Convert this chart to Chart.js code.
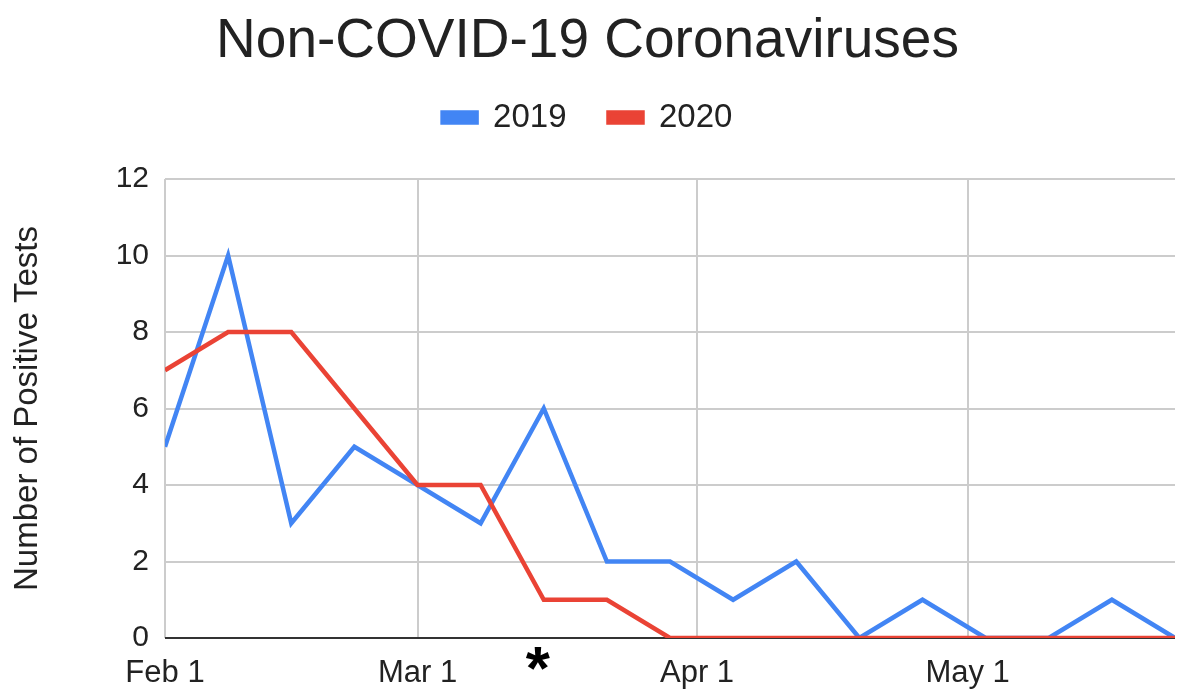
<!DOCTYPE html>
<html>
<head>
<meta charset="utf-8">
<script src="https://cdn.jsdelivr.net/npm/chart.js@4.4.1/dist/chart.umd.min.js"></script>
<style>
  html, body { margin: 0; padding: 0; background: #fff; }
  #wrap { width: 1178px; height: 693px; }
</style>
</head>
<body>
<div id="wrap"><canvas id="myChart"></canvas></div>
<script>
// days since Feb 1, one point per week
const days = [0, 7, 14, 21, 28, 35, 42, 49, 56, 63, 70, 77, 84, 91, 98, 105, 112];
const series2019 = [5, 10, 3, 5, 4, 3, 6, 2, 2, 1, 2, 0, 1, 0, 0, 1, 0];
const series2020 = [7, 8, 8, 6, 4, 4, 1, 1, 0, 0, 0, 0, 0, 0, 0, 0, 0];
const tickDays = [0, 28, 59, 89];
const tickLabels = ['Feb 1', 'Mar 1', 'Apr 1', 'May 1'];
const markDay = 42; // the "*" under the axis

const FONT = "'Liberation Sans', Arial, sans-serif";

const toPoints = (vals) => vals.map((v, i) => ({ x: days[i], y: v }));

// draws the asterisk below the x axis
const asteriskPlugin = {
  id: 'asterisk',
  afterDraw(chart) {
    const ctx = chart.ctx;
    const x = chart.scales.x.getPixelForValue(markDay) - 6;
    ctx.save();
    ctx.fillStyle = '#000';
    ctx.font = 'bold 62px ' + FONT;
    ctx.textAlign = 'center';
    ctx.textBaseline = 'middle';
    ctx.fillText('*', x, chart.chartArea.bottom + 34);
    ctx.restore();
  }
};

// leave some room between the legend and the plot
const legendGap = {
  id: 'legendGap',
  beforeLayout(chart) {
    const lg = chart.legend;
    if (lg && !lg._gapPatched) {
      const fit = lg.fit;
      lg.fit = function () {
        fit.call(this);
        this.height += 35;
      };
      lg._gapPatched = true;
    }
  }
};

const ctx = document.getElementById('myChart').getContext('2d');
new Chart(ctx, {
  type: 'line',
  data: {
    datasets: [{
      label: '2019',
      data: toPoints(series2019),
      borderColor: '#4285f4',
      backgroundColor: '#4285f4',
      borderWidth: 4.5,
      pointRadius: 0,
      order: 1
    }, {
      label: '2020',
      data: toPoints(series2020),
      borderColor: '#ea4335',
      backgroundColor: '#ea4335',
      borderWidth: 4.5,
      pointRadius: 0,
      order: 0
    }]
  },
  options: {
    responsive: true,
    maintainAspectRatio: false,
    animation: false,
    layout: { padding: { left: 0, right: 3, top: 0, bottom: 0 } },
    plugins: {
      title: {
        display: true,
        text: 'Non-COVID-19 Coronaviruses',
        color: '#222',
        font: { family: FONT, size: 55, weight: 'normal', lineHeight: 1.0 },
        padding: { top: 14, bottom: -10 }
      },
      legend: {
        display: true,
        labels: {
          color: '#222',
          font: { family: FONT, size: 33 },
          boxWidth: 34,
          boxHeight: 10,
          padding: 42,
          sort: (a, b) => a.datasetIndex - b.datasetIndex
        }
      },
      tooltip: { enabled: false }
    },
    scales: {
      x: {
        type: 'linear',
        min: 0,
        max: 112,
        afterBuildTicks: (scale) => {
          scale.ticks = tickDays.map(v => ({ value: v }));
        },
        afterFit: (scale) => { scale.height = 55; },
        grid: { color: '#cccccc', lineWidth: 2, drawTicks: false },
        border: { display: false },
        ticks: {
          color: '#222',
          font: { family: FONT, size: 31 },
          padding: 17,
          maxRotation: 0,
          callback: (v) => {
            const i = tickDays.indexOf(v);
            return i >= 0 ? tickLabels[i] : '';
          }
        }
      },
      y: {
        min: 0,
        max: 12,
        afterFit: (scale) => { scale.width = 165; },
        grid: {
          color: (c) => c.tick.value === 0 ? '#333333' : '#cccccc',
          lineWidth: 2,
          drawTicks: false
        },
        border: { display: false },
        ticks: {
          stepSize: 2,
          color: '#222',
          font: { family: FONT, size: 30 },
          padding: 16
        },
        title: {
          display: true,
          text: 'Number of Positive Tests',
          color: '#222',
          font: { family: FONT, size: 33 },
          padding: { top: 8, bottom: 0 }
        }
      }
    }
  },
  plugins: [asteriskPlugin, legendGap]
});
</script>
</body>
</html>
